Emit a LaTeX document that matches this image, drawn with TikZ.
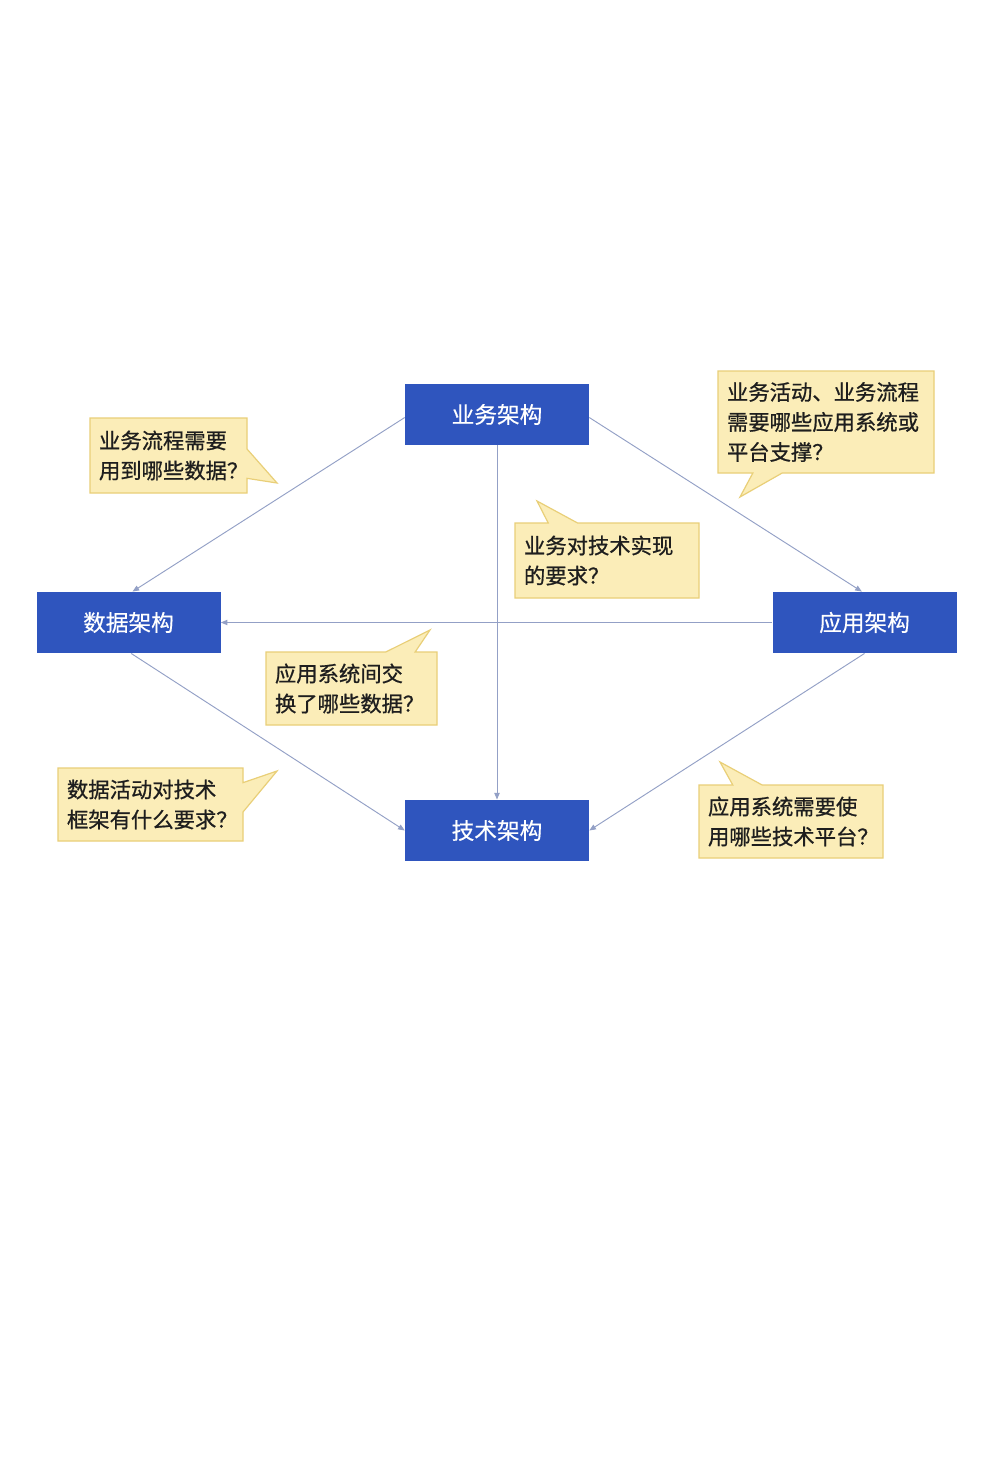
\documentclass[tikz,border=0pt]{standalone}
\usepackage{fontspec}
\setmainfont{Noto Sans CJK SC}
\newfontfamily\notefont{Noto Sans CJK SC}[FakeBold=0.8]
\newfontfamily\archfont{Noto Sans CJK SC}[FakeBold=0.4]
\usetikzlibrary{arrows.meta,shapes.callouts}
\definecolor{archblue}{HTML}{2F55BE}
\definecolor{linkgrey}{HTML}{93A0C6}
\definecolor{notefill}{HTML}{FBEDB8}
\definecolor{notedraw}{HTML}{E9CF78}
\definecolor{notetext}{HTML}{1E1E1E}
\tikzset{
  arch/.style = {rectangle, fill=archblue, text=white, inner sep=0pt,
                 minimum width=138pt, minimum height=46pt,
                 font=\archfont\fontsize{17}{20}\selectfont},
  note/.style = {rectangle callout, fill=notefill, draw=notedraw, line width=0.9pt,
                 text=notetext, align=left, inner xsep=6.75pt, inner ysep=3pt,
                 callout pointer width=22pt,
                 font=\notefont\fontsize{16}{22.5}\selectfont},
  link/.style = {-{Triangle[length=5pt,width=4pt]}, draw=linkgrey, line width=0.7pt},
}
\begin{document}
\begin{tikzpicture}[x=0.75pt,y=-0.75pt]
  \useasboundingbox[fill=white] (0,0) rectangle (992,1484);
  % architecture boxes
  \node[arch] (biz)  at (497,414.5) {业务架构};
  \node[arch] (data) at (128.5,622.5) {数据架构};
  \node[arch] (app)  at (864.5,622.5) {应用架构};
  \node[arch] (tech) at (497,830.5) {技术架构};
  % relations
  \draw[link] (biz.west) ++(0,3) -- ([xshift=3pt]data.north);
  \draw[link] (biz.east) ++(0,3) -- ([xshift=-2pt]app.north);
  \draw[link] (biz) -- (tech);
  \draw[link] (app) -- (data);
  \draw[link] ([xshift=2pt]data.south) -- (tech.west);
  \draw[link] (app.south) -- (tech.east);
  % questions
  \node[note, text width=104.25pt, minimum height=56.25pt,
        callout absolute pointer={(277,483)}] (q1) at (168.5,455.5)
        {业务流程需要\\用到哪些数据？};
  \node[note, text width=148.5pt, minimum height=76.5pt,
        callout absolute pointer={(740,497)}] (q2) at (826,422)
        {业务活动、业务流程\\需要哪些应用系统或\\平台支撑？};
  \node[note, text width=124.5pt, minimum height=56.25pt,
        callout absolute pointer={(537,501)}] (q3) at (607,560.5)
        {业务对技术实现\\的要求？};
  \node[note, text width=114.75pt, minimum height=54.75pt,
        callout absolute pointer={(430,630)}] (q4) at (351.5,688.5)
        {应用系统间交\\换了哪些数据？};
  \node[note, text width=125.25pt, minimum height=54.75pt,
        callout absolute pointer={(277,771)}] (q5) at (150.5,804.5)
        {数据活动对技术\\框架有什么要求？};
  \node[note, text width=124.5pt, minimum height=54.75pt,
        callout absolute pointer={(720,762)}] (q6) at (791,821.5)
        {应用系统需要使\\用哪些技术平台？};
\end{tikzpicture}
\end{document}
